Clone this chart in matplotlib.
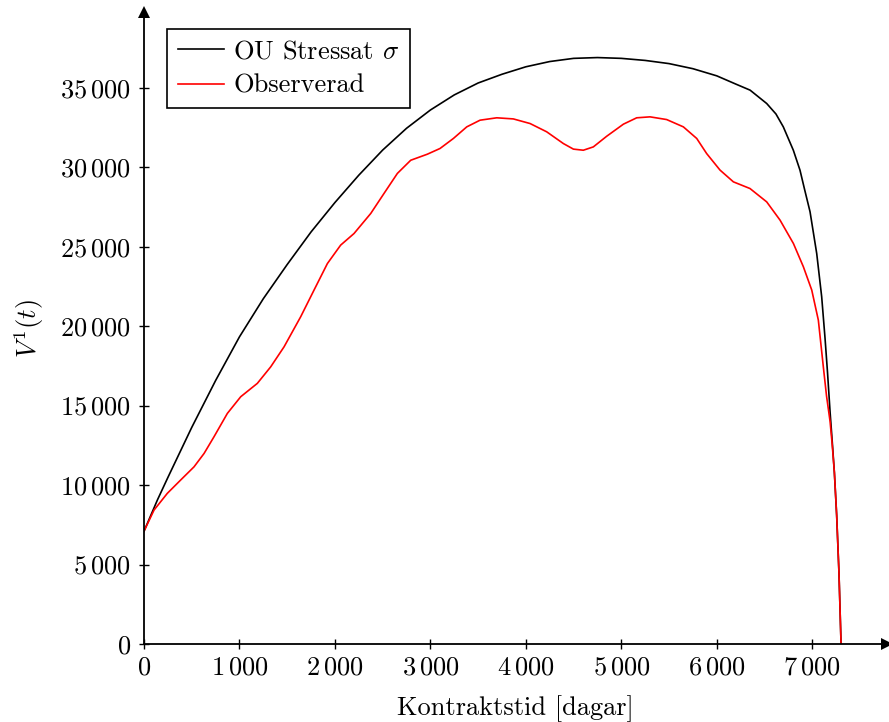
import matplotlib
matplotlib.use("Agg")
import matplotlib.pyplot as plt

plt.rcParams['font.family'] = ['cmr10', 'DejaVu Serif']
plt.rcParams['mathtext.fontset'] = 'cm'
plt.rcParams['axes.formatter.use_mathtext'] = True

# Data
t_ou = [0, 140, 250, 500, 750, 1000, 1250, 1500, 1750, 2000, 2250, 2500, 2750,
        3000, 3250, 3500, 3750, 4000, 4250, 4500, 4750, 5000, 5250, 5500, 5750,
        6000, 6200, 6349, 6523, 6620, 6697, 6802, 6872, 6920, 6977, 7047, 7099,
        7134, 7160, 7187, 7210, 7232, 7256, 7280, 7302]
v_ou = [7100, 9060, 10480, 13630, 16580, 19330, 21730, 23880, 25930, 27780,
        29500, 31080, 32450, 33600, 34550, 35300, 35850, 36320, 36650, 36850,
        36900, 36850, 36720, 36520, 36200, 35750, 35230, 34850, 34010, 33350,
        32540, 31070, 29810, 28600, 27200, 24570, 21850, 19250, 17100, 14600,
        12700, 10800, 8100, 4500, 0]

t_obs = [0, 105, 244, 384, 524, 629, 733, 873, 1013, 1187, 1327, 1467, 1641,
         1781, 1921, 2060, 2200, 2375, 2514, 2654, 2794, 2968, 3101, 3241, 3381,
         3520, 3695, 3869, 4044, 4218, 4393, 4498, 4602, 4707, 4847, 5022, 5161,
         5301, 5475, 5650, 5790, 5894, 6034, 6174, 6348, 6523, 6663, 6803, 6907,
         6995, 7064, 7117, 7150, 7187, 7210, 7232, 7256, 7280, 7302]
v_obs = [7100, 8430, 9480, 10320, 11150, 11990, 13040, 14510, 15560, 16400,
         17440, 18700, 20590, 22270, 23940, 25100, 25830, 27090, 28350, 29610,
         30440, 30820, 31180, 31810, 32540, 32960, 33110, 33040, 32750, 32230,
         31490, 31140, 31070, 31280, 31950, 32710, 33110, 33170, 33000, 32540,
         31810, 30860, 29820, 29080, 28660, 27820, 26670, 25200, 23740, 22270,
         20380, 17400, 15600, 14000, 12500, 10800, 8100, 4500, 0]

x_ticks = [0, 1000, 2000, 3000, 4000, 5000, 6000, 7000]
x_labels = [r"$0$", r"$1\,000$", r"$2\,000$", r"$3\,000$", r"$4\,000$",
            r"$5\,000$", r"$6\,000$", r"$7\,000$"]
y_ticks = [0, 5000, 10000, 15000, 20000, 25000, 30000, 35000]
y_labels = [r"$0$", r"$5\,000$", r"$10\,000$", r"$15\,000$", r"$20\,000$",
            r"$25\,000$", r"$30\,000$", r"$35\,000$"]

FS = 19

fig = plt.figure(figsize=(8.89, 7.22), dpi=100)
ax = fig.add_axes([0.162, 0.108, 0.8354, 0.875])

ax.plot(t_ou, v_ou, color='black', lw=1.2, label=r"OU Stressat $\sigma$")
ax.plot(t_obs, v_obs, color='red', lw=1.2, label="Observerad")

ax.set_xlim(0, 7780)
ax.set_ylim(0, 39750)

for s in ['top', 'right']:
    ax.spines[s].set_visible(False)
for s in ['left', 'bottom']:
    ax.spines[s].set_linewidth(1.3)

ax.plot(1, 0, marker='>', color='k', markersize=8, transform=ax.transAxes,
        clip_on=False, markeredgewidth=0)
ax.plot(0, 1, marker='^', color='k', markersize=8, transform=ax.transAxes,
        clip_on=False, markeredgewidth=0)

ax.set_xticks(x_ticks)
ax.set_xticklabels(x_labels)
ax.set_yticks(y_ticks)
ax.set_yticklabels(y_labels)
ax.tick_params(direction='inout', length=7, width=1.0, labelsize=FS)
ax.tick_params(axis='y', pad=6)
ax.tick_params(axis='x', pad=5)

ax.set_xlabel("Kontraktstid [dagar]", fontsize=FS, labelpad=11)
ax.set_ylabel(r"$V^1(t)$", fontsize=FS, labelpad=10)

leg = ax.legend(loc='upper left', bbox_to_anchor=(0.031, 0.973), borderaxespad=0,
                fontsize=FS, fancybox=False, framealpha=1, edgecolor='black',
                handlelength=1.75, handletextpad=0.35, borderpad=0.4,
                labelspacing=0.4)
leg.get_frame().set_linewidth(1.2)

fig.savefig("out.png", dpi=100)
